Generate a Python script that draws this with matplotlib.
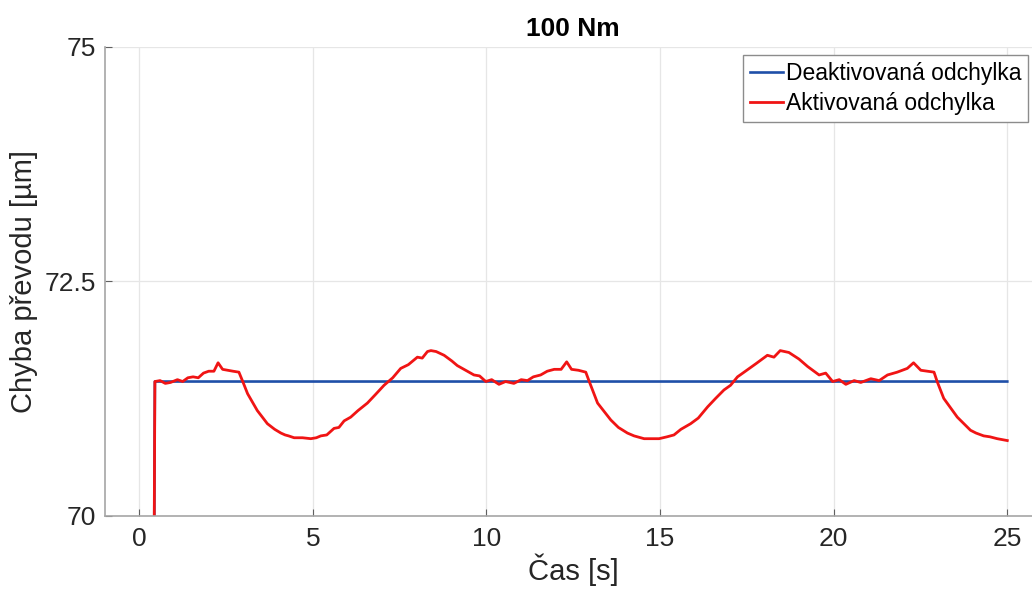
import matplotlib
matplotlib.use("Agg")
import matplotlib.pyplot as plt

plt.rcParams['font.family'] = ['Liberation Sans', 'DejaVu Sans']

# blue: deactivated deviation (flat after the step)
t_deact = [0.42, 0.45, 25.0]
v_deact = [69.0, 71.43, 71.43]

# red: activated deviation
t_act = [0.42, 0.45, 0.6, 0.75, 0.9, 1.1, 1.25, 1.4, 1.55, 1.7, 1.85, 2.0, 2.15, 2.27,
         2.4, 2.55, 2.7, 2.87, 2.97, 3.12, 3.4, 3.69, 3.9, 4.08, 4.2, 4.3, 4.46, 4.7,
         4.94, 5.1, 5.23, 5.4, 5.61, 5.75, 5.9, 6.09, 6.3, 6.57, 6.8, 7.05, 7.3, 7.53,
         7.75, 8.01, 8.15, 8.3, 8.4, 8.55, 8.78, 9.0, 9.16, 9.4, 9.64, 9.8, 9.98, 10.15,
         10.36, 10.55, 10.79, 11.0, 11.18, 11.35, 11.56, 11.75, 11.95, 12.15, 12.31,
         12.45, 12.65, 12.86, 12.95, 13.2, 13.58, 13.8, 14.06, 14.25, 14.54, 14.75,
         14.97, 15.2, 15.4, 15.6, 15.88, 16.1, 16.37, 16.6, 16.84, 17.03, 17.23, 17.42,
         17.76, 18.09, 18.28, 18.46, 18.71, 19.0, 19.25, 19.58, 19.77, 19.97, 20.16,
         20.35, 20.59, 20.78, 21.07, 21.31, 21.55, 21.83, 22.12, 22.3, 22.51, 22.89,
         22.98, 23.17, 23.56, 23.94, 24.1, 24.32, 24.5, 24.71, 25.0]
v_act = [69.0, 71.43, 71.44, 71.41, 71.42, 71.45, 71.43, 71.47, 71.48, 71.47, 71.52, 71.54,
         71.54, 71.63, 71.56, 71.55, 71.54, 71.53, 71.44, 71.30, 71.12, 70.98, 70.92, 70.88,
         70.86, 70.85, 70.83, 70.83, 70.82, 70.83, 70.85, 70.86, 70.93, 70.94, 71.01, 71.05,
         71.12, 71.20, 71.29, 71.39, 71.47, 71.57, 71.61, 71.69, 71.68, 71.75, 71.76, 71.75,
         71.71, 71.65, 71.60, 71.55, 71.50, 71.49, 71.43, 71.45, 71.40, 71.43, 71.41, 71.45,
         71.44, 71.48, 71.50, 71.54, 71.56, 71.56, 71.64, 71.56, 71.55, 71.53, 71.44, 71.20,
         71.02, 70.94, 70.88, 70.85, 70.82, 70.82, 70.82, 70.84, 70.86, 70.92, 70.98, 71.04,
         71.16, 71.25, 71.34, 71.39, 71.48, 71.53, 71.62, 71.71, 71.69, 71.76, 71.74, 71.67,
         71.59, 71.50, 71.52, 71.43, 71.45, 71.40, 71.44, 71.42, 71.46, 71.44, 71.50, 71.53,
         71.57, 71.63, 71.55, 71.53, 71.43, 71.25, 71.05, 70.91, 70.88, 70.85, 70.84, 70.82,
         70.80]

x_ticks = [0, 5, 10, 15, 20, 25]
y_ticks = [70, 72.5, 75]
y_tick_labels = ['70', '72.5', '75']

fig = plt.figure(figsize=(10.32, 5.91), dpi=100)
# axes deliberately runs past the right edge like in the original export
ax = fig.add_axes([0.1013, 0.1277, 0.9084, 0.7928])

ax.plot(t_deact, v_deact, color='#1f4fa8', lw=1.9, label='Deaktivovaná odchylka')
ax.plot(t_act, v_act, color='#f01414', lw=2.0, label='Aktivovaná odchylka')

ax.set_xlim(-1, 26)
ax.set_ylim(70, 75)
ax.set_xticks(x_ticks)
ax.set_yticks(y_ticks)
ax.set_yticklabels(y_tick_labels)
ax.grid(True, color='#e6e6e6', lw=0.9)
ax.set_axisbelow(True)

for s in ['top', 'right']:
    ax.spines[s].set_visible(False)
for s in ['left', 'bottom']:
    ax.spines[s].set_color('#a6a6a6')
    ax.spines[s].set_linewidth(1.2)
ax.tick_params(direction='in', length=5, width=0.8, color='#606060',
               labelsize=19, labelcolor='#262626')
ax.tick_params(axis='x', pad=8)
ax.tick_params(axis='y', pad=6)

ax.set_title('100 Nm', fontsize=19, fontweight='bold', pad=8)
ax.set_xlabel('Čas [s]', fontsize=21, color='#262626', labelpad=2)
ax.set_ylabel('Chyba převodu [µm]', fontsize=21, color='#262626', labelpad=5)

leg = ax.legend(loc='upper left', bbox_to_anchor=(743 / 1032, 1 - 55 / 591),
                bbox_transform=fig.transFigure, fontsize=16.5, frameon=True, fancybox=False,
                framealpha=1, edgecolor='#8c8c8c', handlelength=1.45, handletextpad=0.12,
                labelspacing=0.3, borderpad=0.3, borderaxespad=0)
leg.get_frame().set_linewidth(1.0)

fig.savefig('out.png', dpi=100)
